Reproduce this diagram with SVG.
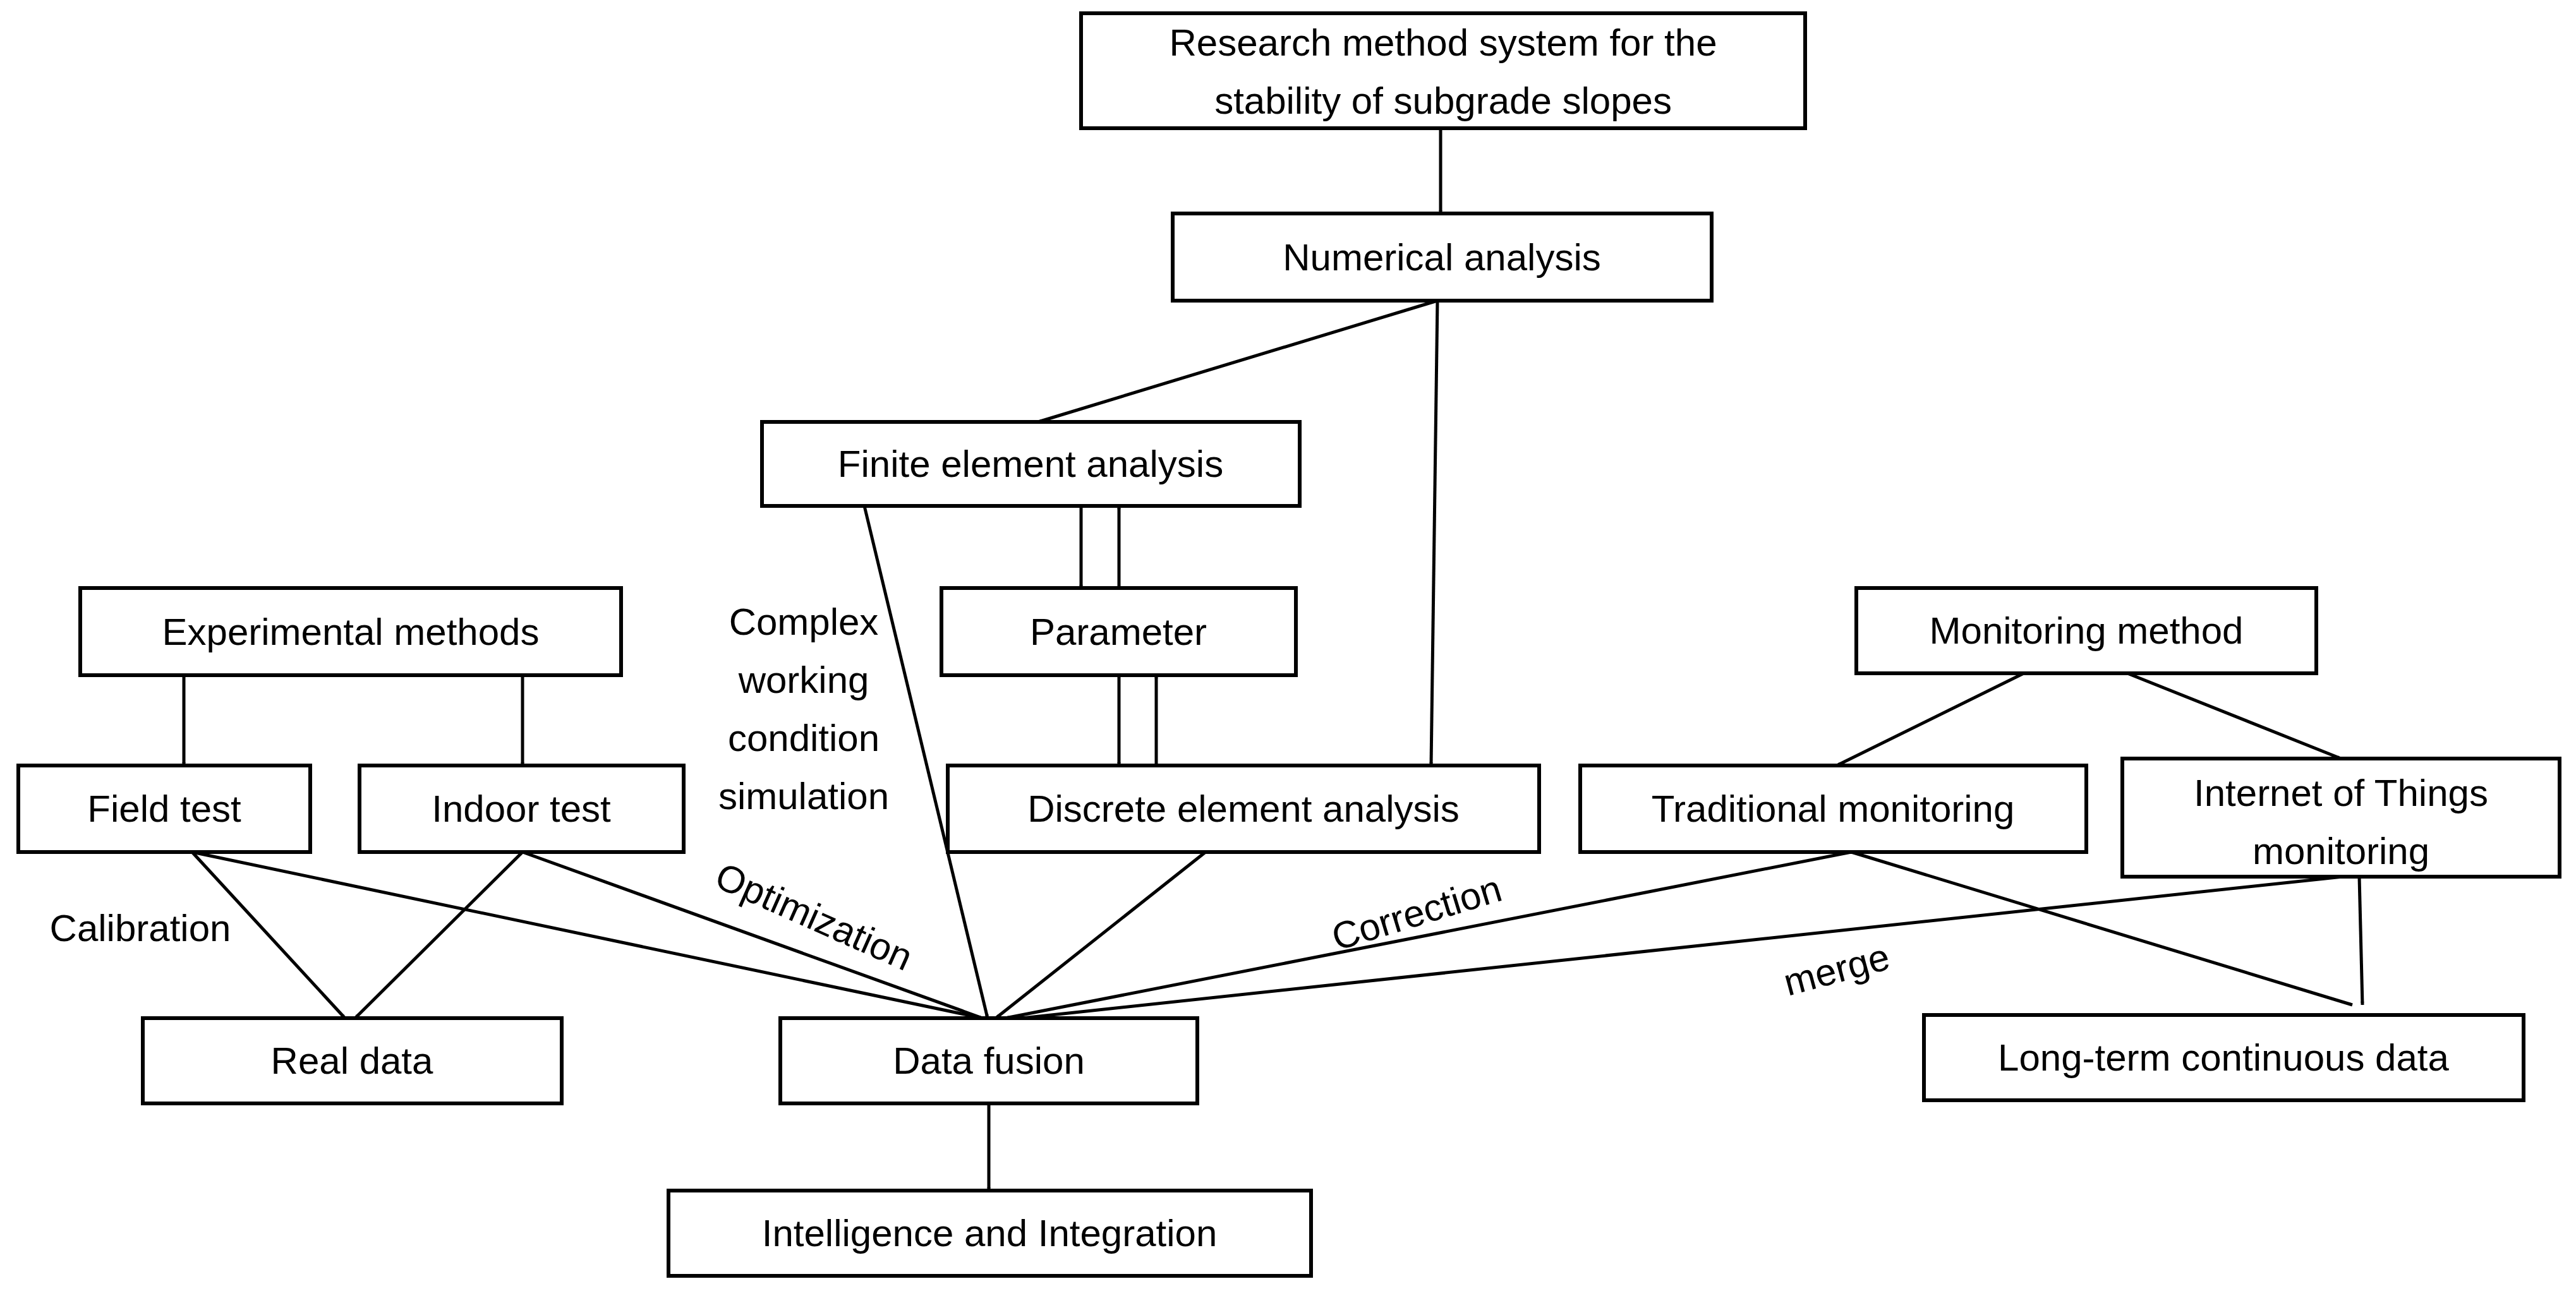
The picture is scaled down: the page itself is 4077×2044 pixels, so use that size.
<svg xmlns="http://www.w3.org/2000/svg" width="4077" height="2044" viewBox="0 0 4077 2044">
<style>
rect{fill:#fff;stroke:#000;stroke-width:6}
text{font-family:"Liberation Sans",Arial,sans-serif;font-size:60px;fill:#000;text-anchor:middle}
#edges line{stroke:#000;stroke-width:5;marker-end:url(#ah)}
</style>
<defs><marker id="ah" viewBox="0 0 10 10" refX="9" refY="5" markerWidth="6" markerHeight="6" markerUnits="userSpaceOnUse" orient="auto"><path d="M0,0L10,5L0,10z" fill="#000"/></marker></defs>
<rect x="0" y="0" width="4077" height="2044" style="stroke:none"/>
<g id="edges">
<line x1="2280" y1="203" x2="2280" y2="338"/>
<line x1="2275" y1="476" x2="1643" y2="668"/>
<line x1="2275" y1="476" x2="2265" y2="1212"/>
<line x1="1711" y1="801" x2="1711" y2="931"/>
<line x1="1771" y1="931" x2="1771" y2="801"/>
<line x1="1771" y1="1069" x2="1771" y2="1212"/>
<line x1="1830" y1="1212" x2="1830" y2="1069"/>
<line x1="291" y1="1069" x2="291" y2="1212"/>
<line x1="827" y1="1069" x2="827" y2="1212"/>
<line x1="304" y1="1349" x2="546" y2="1612"/>
<line x1="827" y1="1349" x2="562" y2="1612"/>
<line x1="304" y1="1349" x2="1555" y2="1612"/>
<line x1="827" y1="1349" x2="1555" y2="1612"/>
<line x1="1368" y1="801" x2="1563" y2="1612"/>
<line x1="1908" y1="1349" x2="1576" y2="1612"/>
<line x1="2930" y1="1349" x2="1591" y2="1612"/>
<line x1="3708" y1="1388" x2="1617" y2="1612"/>
<line x1="2930" y1="1349" x2="3723" y2="1591"/>
<line x1="3734" y1="1388" x2="3739" y2="1591"/>
<line x1="3203" y1="1066" x2="2907" y2="1212"/>
<line x1="3367" y1="1066" x2="3705" y2="1201"/>
<line x1="1565" y1="1747" x2="1565" y2="1885"/>
</g>
<g id="research"><rect x="1711" y="21" width="1146" height="182"/><text x="2284" y="88">Research method system for the</text><text x="2284" y="180">stability of subgrade slopes</text></g>
<g id="numerical"><rect x="1856" y="338" width="853" height="138"/><text x="2282" y="428">Numerical analysis</text></g>
<g id="finite"><rect x="1206" y="668" width="851" height="133"/><text x="1631" y="755">Finite element analysis</text></g>
<g id="experimental"><rect x="127" y="931" width="856" height="138"/><text x="555" y="1021">Experimental methods</text></g>
<g id="parameter"><rect x="1490" y="931" width="561" height="138"/><text x="1770" y="1021">Parameter</text></g>
<g id="monitoring"><rect x="2938" y="931" width="728" height="135"/><text x="3302" y="1019">Monitoring method</text></g>
<g id="field"><rect x="29" y="1212" width="462" height="137"/><text x="260" y="1301">Field test</text></g>
<g id="indoor"><rect x="569" y="1212" width="513" height="137"/><text x="825" y="1301">Indoor test</text></g>
<g id="discrete"><rect x="1500" y="1212" width="936" height="137"/><text x="1968" y="1301">Discrete element analysis</text></g>
<g id="traditional"><rect x="2501" y="1212" width="801" height="137"/><text x="2901" y="1301">Traditional monitoring</text></g>
<g id="iot"><rect x="3359" y="1201" width="692" height="187"/><text x="3705" y="1276">Internet of Things</text><text x="3705" y="1368">monitoring</text></g>
<g id="real"><rect x="226" y="1612" width="663" height="135"/><text x="557" y="1700">Real data</text></g>
<g id="fusion"><rect x="1235" y="1612" width="660" height="135"/><text x="1565" y="1700">Data fusion</text></g>
<g id="longterm"><rect x="3045" y="1607" width="949" height="135"/><text x="3519" y="1695">Long-term continuous data</text></g>
<g id="intelligence"><rect x="1058" y="1885" width="1017" height="135"/><text x="1566" y="1973">Intelligence and Integration</text></g>
<g id="labels">
<text x="1272" y="1005">Complex</text><text x="1272" y="1097">working</text><text x="1272" y="1189">condition</text><text x="1272" y="1281">simulation</text>
<text x="222" y="1490">Calibration</text>
<text transform="translate(1280,1470) rotate(24)">Optimization</text>
<text transform="translate(2248,1465) rotate(-17)">Correction</text>
<text transform="translate(2912,1555) rotate(-15)">merge</text>
</g>
</svg>
